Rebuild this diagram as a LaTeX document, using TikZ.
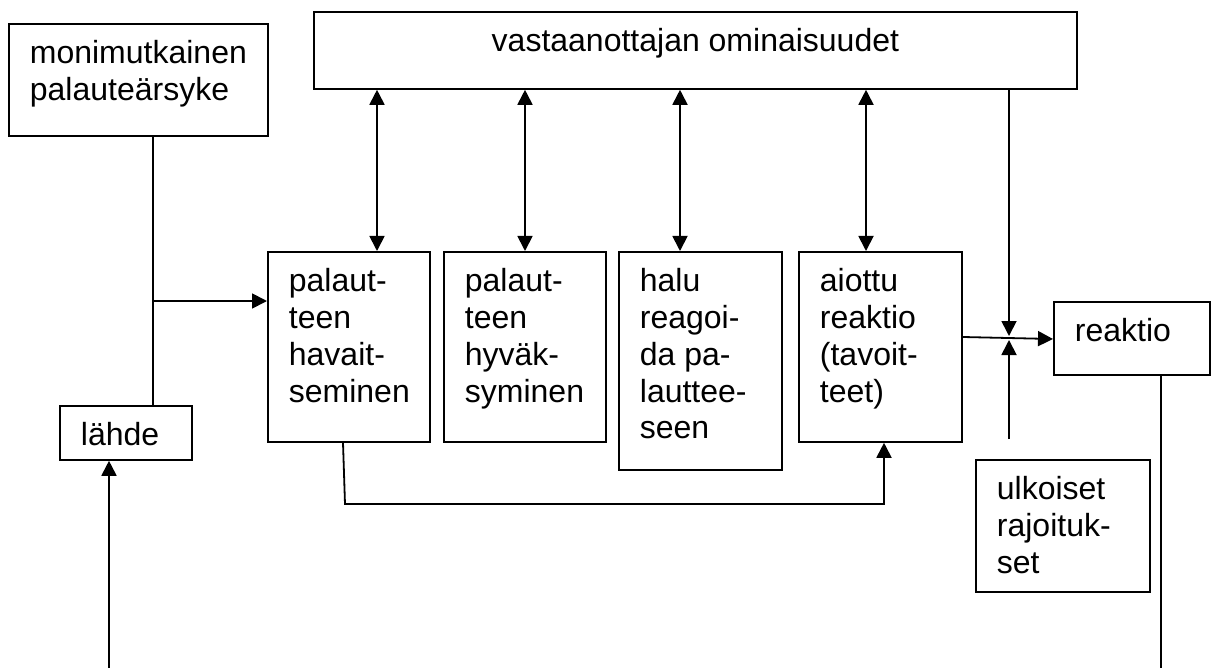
\documentclass[tikz,border=0pt]{standalone}
\usepackage{fontspec}
\setmainfont{Liberation Sans}
\usetikzlibrary{arrows.meta}

% boxed text: width, height, lines (left aligned, first baseline 40pt below the top)
\newcommand{\bxtext}[3]{\parbox[c][#2][t]{#1}{\raggedright\leftskip=21pt\rule{0pt}{40pt}#3}}

\begin{document}
\begin{tikzpicture}[x=1pt, y=-1pt,
  font=\fontsize{32pt}{36.7pt}\selectfont,
  box/.style={draw, line width=1.8pt, inner sep=0pt, anchor=north west},
  conn/.style={line width=1.8pt},
  arr/.style={conn, -{Triangle[length=15pt,width=15pt]}},
  dbl/.style={conn, {Triangle[length=15pt,width=15pt]}-{Triangle[length=15pt,width=15pt]}}]
\useasboundingbox (0,0) rectangle (1215,668);

% boxes
\node[box] (mon) at (8,23) {\bxtext{259pt}{112pt}{monimutkainen\\palauteärsyke}};
\node[box] (top) at (313,11) {\parbox[c][77pt][t]{763pt}{\centering\rule{0pt}{40pt}vastaanottajan ominaisuudet}};
\node[box] (A) at (267,251) {\bxtext{162pt}{190pt}{palaut-\\teen\\havait-\\seminen}};
\node[box] (B) at (443,251) {\bxtext{162pt}{190pt}{palaut-\\teen\\hyväk-\\syminen}};
\node[box] (C) at (618,251) {\bxtext{163pt}{218pt}{halu\\reagoi-\\da pa-\\lauttee-\\seen}};
\node[box] (D) at (798,251) {\bxtext{163pt}{190pt}{aiottu\\reaktio\\(tavoit-\\teet)}};
\node[box] (reak) at (1053,301) {\bxtext{156pt}{73pt}{reaktio}};
\node[box] (lah) at (59,405) {\bxtext{132pt}{54pt}{lähde}};
\node[box] (uk) at (975,459) {\bxtext{174pt}{132pt}{ulkoiset\\rajoituk-\\set}};

% column and routing points
\coordinate (cS) at (153,0);
\coordinate (br) at (153,301);
\coordinate (cL) at (109,0);
\coordinate (lbot) at (109,668);
\coordinate (cA) at (377,0);
\coordinate (cB) at (525,0);
\coordinate (cC) at (680,0);
\coordinate (cD) at (866,0);
\coordinate (cJ) at (1009,0);
\coordinate (jdown) at (1009,336);
\coordinate (jup) at (1009,340);
\coordinate (ustart) at (1009,439);
\coordinate (dout) at (0,337);
\coordinate (rin) at (0,339);
\coordinate (cR) at (1161,0);
\coordinate (rbot) at (1161,668);
\coordinate (cE) at (343,0);
\coordinate (e1) at (345,504);
\coordinate (e2) at (884,504);

% connectors
\draw[conn] (mon.south -| cS) -- (lah.north -| cS);
\draw[arr] (br) -- (A.west |- br);
\draw[arr] (lbot) -- (lah.south -| lbot);
\draw[dbl] (top.south -| cA) -- (A.north -| cA);
\draw[dbl] (top.south -| cB) -- (B.north -| cB);
\draw[dbl] (top.south -| cC) -- (C.north -| cC);
\draw[dbl] (top.south -| cD) -- (D.north -| cD);
\draw[arr] (top.south -| cJ) -- (jdown);
\draw[arr] (ustart) -- (jup);
\draw[arr] (D.east |- dout) -- (reak.west |- rin);
\draw[conn] (reak.south -| cR) -- (rbot);
\draw[arr] (A.south -| cE) -- (e1) -- (e2) -- (D.south -| e2);
\end{tikzpicture}
\end{document}
